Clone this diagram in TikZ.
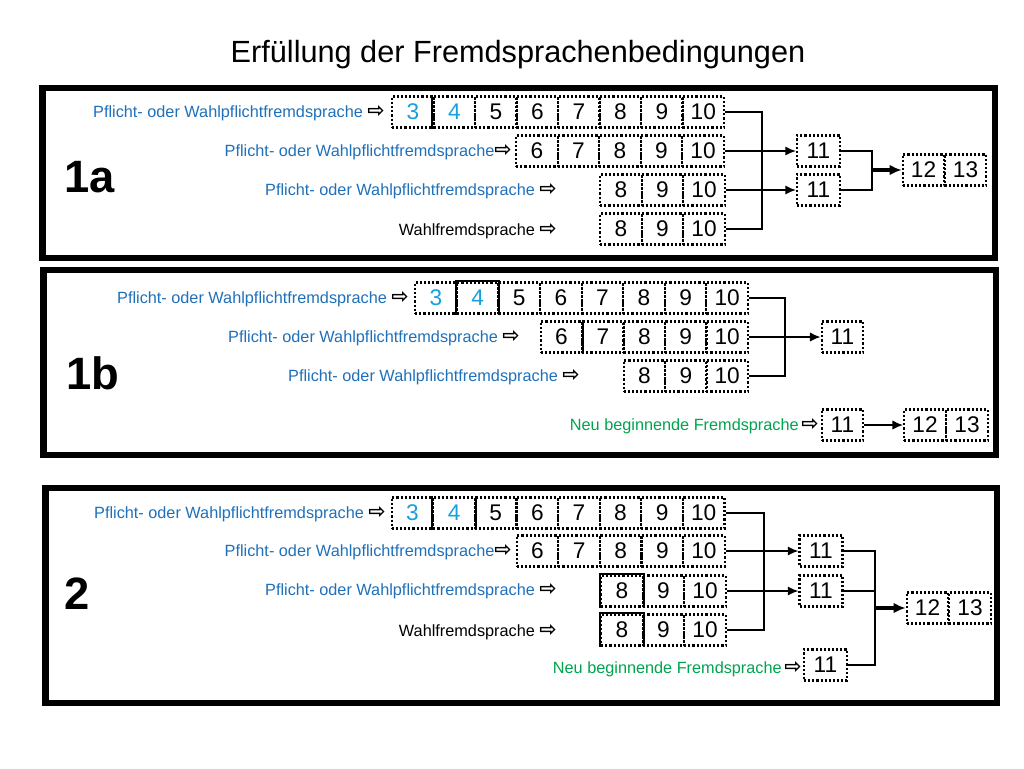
\documentclass[tikz,border=0pt]{standalone}
\usepackage{fontspec}
\setmainfont{Liberation Sans}
\newfontfamily\arrowfont{DejaVu Sans}
\usetikzlibrary{arrows.meta}
\definecolor{pflicht}{RGB}{31,112,186}
\definecolor{neu}{RGB}{0,163,78}
\definecolor{frueh}{RGB}{22,160,224}
\newcommand{\pfeil}{\textcolor{black}{\fontsize{15.5}{15.5}\arrowfont\bfseries\symbol{"21E8}}}

\begin{document}
\begin{tikzpicture}[x=0.75pt, y=-0.75pt,
        every node/.style={inner sep=0pt},
        yr/.style={draw, line width=1.6pt, dash pattern=on 1.6pt off 1.5pt,
            minimum width=31.2pt, minimum height=23.3pt, font=\fontsize{17}{20}\selectfont},
        lbl/.style={anchor=east, text=pflicht, font=\fontsize{12.2}{14}\selectfont},
        big/.style={font=\fontsize{34}{40}\selectfont\bfseries},
        panel/.style={draw, line width=5.2pt},
        line/.style={line width=1.4pt},
        fest/.style={line width=1.5pt},
        arr/.style={line width=1.4pt, -{Latex[length=8pt,width=7pt]}},
        fat/.style={line width=2.6pt, -{Latex[length=9pt,width=8pt]}}]
        \useasboundingbox (0,0) rectangle (1024,768);

        % Title and frames
        \node (title) at (518,55) {\fontsize{23}{28}\selectfont Erfüllung der Fremdsprachenbedingungen};
        \draw[panel] (42.5,88) rectangle (995,258);
        \draw[panel] (43.5,270) rectangle (996,455);
        \draw[panel] (45.5,488) rectangle (997,703);

        % Panel 1a - four languages
        \node[big] (p1a) at (90,177) {1a};
        \node[lbl] (a1l) at (385,113) {Pflicht- oder Wahlpflichtfremdsprache \pfeil};
        \node[lbl] (a2l) at (512,152) {Pflicht- oder Wahlpflichtfremdsprache\pfeil};
        \node[lbl] (a3l) at (557,191) {Pflicht- oder Wahlpflichtfremdsprache \pfeil};
        \node[lbl, text=black] (a4l) at (557,231) {Wahlfremdsprache \pfeil};
        \foreach \g in {3,4} \node[yr, text=frueh] (a1-\g) at ({412.8+41.5*(\g-3)},112) {\g};
        \foreach \g in {5,...,10} \node[yr] (a1-\g) at ({412.8+41.5*(\g-3)},112) {\g};
        \foreach \g in {6,...,10} \node[yr] (a2-\g) at ({537+41.5*(\g-6)},151) {\g};
        \foreach \g in {8,9,10} \node[yr] (a3-\g) at ({621+41.5*(\g-8)},190) {\g};
        \foreach \g in {8,9,10} \node[yr] (a4-\g) at ({621+41.5*(\g-8)},229) {\g};
        \draw[fest] (a1-4.north west) -- (a1-4.south west);
        \node[yr, minimum width=32.2pt] (a11o) at (818.5,151) {11};
        \node[yr, minimum width=32.2pt] (a11u) at (818.5,190) {11};
        \node[yr] (a12) at (923.5,170) {12};
        \node[yr] (a13) at (965.5,170) {13};
        \coordinate (a1bus) at (762,170);
        \coordinate (a1join) at (872,170);
        \draw[line] (a1-10.east) -| (a1bus) |- (a4-10.east);
        \draw[arr] (a2-10.east) -- (a11o.west);
        \draw[arr] (a3-10.east) -- (a11u.west);
        \draw[line] (a11o.east) -| (a1join) |- (a11u.east);
        \draw[fat] (a1join) -- (a12.west);

        % Panel 1b - three languages and a new one
        \node[big] (p1b) at (93,373) {1b};
        \node[lbl] (b1l) at (409,299) {Pflicht- oder Wahlpflichtfremdsprache \pfeil};
        \node[lbl] (b2l) at (520,338) {Pflicht- oder Wahlpflichtfremdsprache \pfeil};
        \node[lbl] (b3l) at (580,377) {Pflicht- oder Wahlpflichtfremdsprache \pfeil};
        \node[lbl, text=neu] (b4l) at (819,426) {Neu beginnende Fremdsprache\,\pfeil};
        \foreach \g in {3,4} \node[yr, text=frueh] (b1-\g) at ({436+41.6*(\g-3)},298) {\g};
        \foreach \g in {5,...,10} \node[yr] (b1-\g) at ({436+41.6*(\g-3)},298) {\g};
        \foreach \g in {6,...,10} \node[yr] (b2-\g) at ({561.5+41.4*(\g-6)},337) {\g};
        \foreach \g in {8,9,10} \node[yr] (b3-\g) at ({644.5+41.3*(\g-8)},376) {\g};
        \draw[fest] (b1-4.south west) |- (b1-4.north east) -- (b1-4.south east);
        \draw[fest] (b2-6.north east) -- (b2-6.south east);
        \node[yr] (b11) at (842.5,337) {11};
        \node[yr] (b11n) at (842.5,425) {11};
        \node[yr] (b12) at (925,425) {12};
        \node[yr] (b13) at (967,425) {13};
        \coordinate (b1bus) at (785,337);
        \draw[line] (b1-10.east) -| (b1bus) |- (b3-10.east);
        \draw[arr] (b2-10.east) -- (b11.west);
        \draw[arr] (b11n.east) -- (b12.west);

        % Panel 2 - five languages
        \node[big] (p2) at (77,594) {2};
        \node[lbl] (c1l) at (386,514) {Pflicht- oder Wahlpflichtfremdsprache \pfeil};
        \node[lbl] (c2l) at (512,552) {Pflicht- oder Wahlpflichtfremdsprache\pfeil};
        \node[lbl] (c3l) at (557,591) {Pflicht- oder Wahlpflichtfremdsprache \pfeil};
        \node[lbl, text=black] (c4l) at (557,632) {Wahlfremdsprache \pfeil};
        \node[lbl, text=neu] (c5l) at (802,669) {Neu beginnende Fremdsprache\,\pfeil};
        \foreach \g in {3,4} \node[yr, text=frueh] (c1-\g) at ({412.5+41.6*(\g-3)},513) {\g};
        \foreach \g in {5,...,10} \node[yr] (c1-\g) at ({412.5+41.6*(\g-3)},513) {\g};
        \foreach \g in {6,...,10} \node[yr] (c2-\g) at ({537.5+41.6*(\g-6)},551) {\g};
        \foreach \g in {8,9,10} \node[yr] (c3-\g) at ({622+41.5*(\g-8)},591) {\g};
        \foreach \g in {8,9,10} \node[yr] (c4-\g) at ({622+41.5*(\g-8)},630) {\g};
        \draw[fest] (c1-4.north west) -- (c1-4.south west) (c1-4.north east) -- (c1-4.south east);
        \draw[fest] (c3-8.south west) |- (c3-8.north east) -- (c3-8.south east);
        \draw[fest] (c4-8.south west) |- (c4-8.north east) -- (c4-8.south east);
        \node[yr, minimum width=32.2pt] (c11a) at (821,551) {11};
        \node[yr, minimum width=32.2pt] (c11b) at (821,591) {11};
        \node[yr, minimum width=32.2pt] (c11n) at (825.5,665) {11};
        \node[yr] (c12) at (927.5,608) {12};
        \node[yr] (c13) at (970,608) {13};
        \coordinate (c1bus) at (764,591);
        \coordinate (cjoin) at (875,608);
        \draw[line] (c1-10.east) -| (c1bus) |- (c4-10.east);
        \draw[arr] (c2-10.east) -- (c11a.west);
        \draw[arr] (c3-10.east) -- (c11b.west);
        \draw[line] (c11a.east) -| (cjoin) |- (c11n.east);
        \draw[line] (c11b.east) -- (c11b.east -| cjoin);
        \draw[fat] (cjoin) -- (c12.west);
    \end{tikzpicture}
\end{document}
